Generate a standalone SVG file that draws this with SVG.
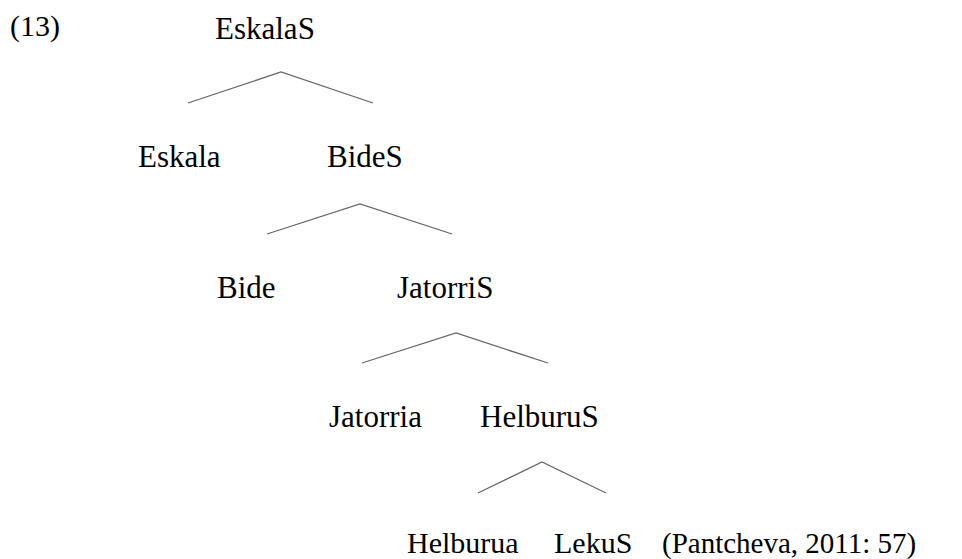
<svg xmlns="http://www.w3.org/2000/svg" width="962" height="559" viewBox="0 0 962 559">
<style>
.e{stroke:#666;stroke-width:1.3;fill:none}
</style>
<rect width="962" height="559" fill="#fff"/>
<text x="10" y="36" font-family="Liberation Serif" font-size="30">(13)</text>
<g id="n-EskalaS"><text x="215" y="39" font-family="Liberation Serif" font-size="31">EskalaS</text></g>
<g id="n-Eskala"><text x="138" y="167" font-family="Liberation Serif" font-size="31">Eskala</text></g>
<g id="n-BideS"><text x="327" y="167" font-family="Liberation Serif" font-size="31">BideS</text></g>
<g id="n-Bide"><text x="217" y="298" font-family="Liberation Serif" font-size="31">Bide</text></g>
<g id="n-JatorriS"><text x="397" y="298" font-family="Liberation Serif" font-size="31">JatorriS</text></g>
<g id="n-Jatorria"><text x="329" y="427" font-family="Liberation Serif" font-size="31">Jatorria</text></g>
<g id="n-HelburuS"><text x="480" y="427" font-family="Liberation Serif" font-size="31">HelburuS</text></g>
<g id="n-Helburua"><text x="407" y="553" font-family="Liberation Serif" font-size="30">Helburua</text></g>
<g id="n-LekuS"><text x="554" y="553" font-family="Liberation Serif" font-size="30">LekuS</text></g>
<text x="662" y="553" font-family="Liberation Serif" font-size="29">(Pantcheva, 2011: 57)</text>
<g id="edges">
<polyline class="e" points="188,103 281,72 373,103"/>
<polyline class="e" points="267,234 360,204 452,234"/>
<polyline class="e" points="362,363 456,333 548,363"/>
<polyline class="e" points="478,493 542,462 606,493"/>
</g>
</svg>
